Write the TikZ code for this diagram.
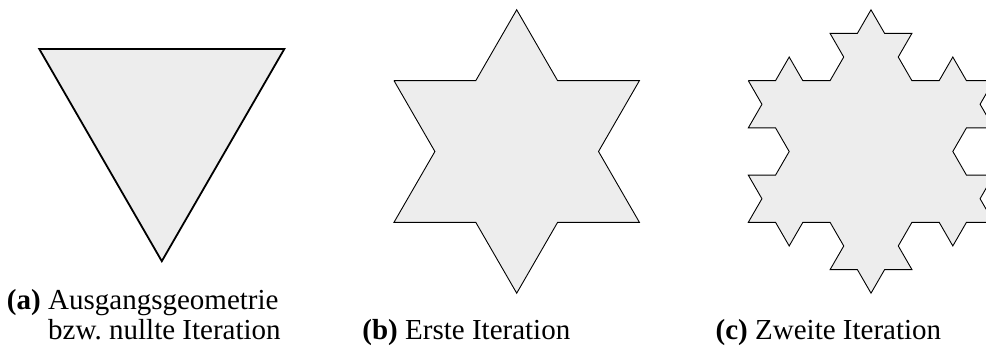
\documentclass[tikz,border=0pt]{standalone}
\usepackage{fontspec}
\setmainfont{Liberation Serif}
\usetikzlibrary{decorations.fractals}

\tikzset{
  flaeche/.style={fill=black!7, draw=black, line join=miter},
  basis/.style={flaeche, line width=1.8pt},
  iter/.style={flaeche, line width=0.9pt, decoration={Koch snowflake}},
  caption/.style={anchor=base west, inner sep=0pt, font=\fontsize{29}{30}\selectfont},
  nummer/.style={caption, anchor=base east, font=\fontsize{29}{30}\selectfont\bfseries}
}

\begin{document}
\begin{tikzpicture}[x=1pt, y=1pt]
  \useasboundingbox (0,0) rectangle (986,347);

  % Mittelpunkte der drei Dreiecke
  \coordinate (ma) at (161.8,227.3);
  \coordinate (mb) at (516.7,195.5);
  \coordinate (mc) at (871.0,195.5);

  % (a) Ausgangsgeometrie
  \draw[basis] ([shift={(150:141.5)}]ma) -- ([shift={(30:141.5)}]ma)
    -- ([shift={(270:141.5)}]ma) -- cycle;

  % (b) erste Iteration
  \path[iter] decorate{ ([shift={(150:141.7)}]mb) -- ([shift={(30:141.7)}]mb)
    -- ([shift={(270:141.7)}]mb) -- cycle };

  % (c) zweite Iteration
  \path[iter] decorate{ decorate{ ([shift={(150:141.7)}]mc) -- ([shift={(30:141.7)}]mc)
    -- ([shift={(270:141.7)}]mc) -- cycle } };

  % Unterschriften
  \node[caption] (capa) at (48,37) {Ausgangsgeometrie};
  \node[caption] (capa2) at (48,7.5) {bzw.\ nullte Iteration};
  \node[caption] (capb) at (405,7.5) {Erste Iteration};
  \node[caption] (capc) at (755,7.5) {Zweite Iteration};
  \node[nummer] (nra) at ([xshift=-7]capa.base west) {(a)};
  \node[nummer] (nrb) at ([xshift=-7]capb.base west) {(b)};
  \node[nummer] (nrc) at ([xshift=-7]capc.base west) {(c)};
\end{tikzpicture}
\end{document}
